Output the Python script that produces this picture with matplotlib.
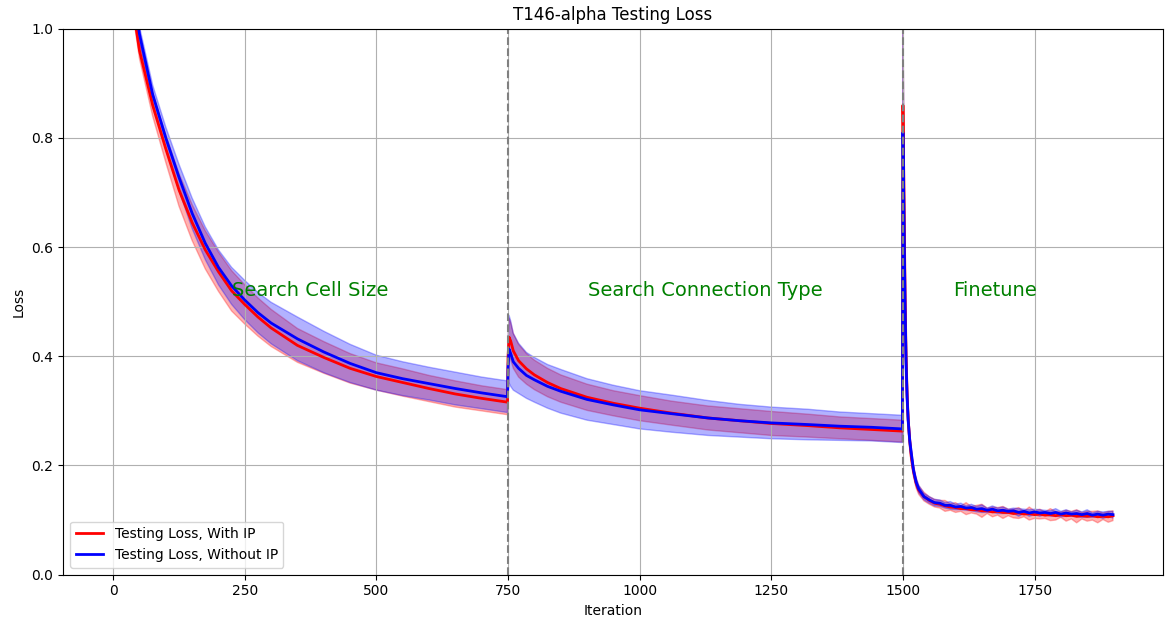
import numpy as np
import matplotlib
matplotlib.use('Agg')
import matplotlib.pyplot as plt

# --- data (iteration, mean, std) ---
iters = ([0, 25, 50, 75, 100, 125, 150, 175, 200, 225, 250, 275, 300, 350,
          400, 450, 500, 550, 600, 650, 700, 749]
         + [750, 752, 755, 760, 770, 785, 800, 825, 850, 900, 950, 1000,
            1060, 1130, 1190, 1250, 1320, 1380, 1440, 1499]
         + [1500, 1502, 1504, 1506, 1508, 1510, 1513, 1516, 1520, 1525,
            1530, 1540, 1550, 1560]
         + list(range(1570, 1900, 10)) + [1899])

red_mean = [1.38, 1.12, 0.96, 0.86, 0.78, 0.705, 0.645, 0.595, 0.555, 0.52,
            0.495, 0.472, 0.452, 0.42, 0.398, 0.378, 0.363, 0.352, 0.341,
            0.331, 0.323, 0.316,
            0.40, 0.435, 0.428, 0.41, 0.392, 0.377, 0.366, 0.352, 0.341,
            0.325, 0.314, 0.305, 0.296, 0.287, 0.282, 0.277, 0.273, 0.269,
            0.266, 0.263,
            0.86, 0.70, 0.52, 0.40, 0.33, 0.285, 0.245, 0.215, 0.19, 0.168,
            0.155, 0.143, 0.136, 0.131,
            0.129, 0.126, 0.124, 0.123, 0.121, 0.121, 0.119, 0.119, 0.117,
            0.117, 0.115, 0.116, 0.114, 0.114, 0.112, 0.113, 0.111, 0.112,
            0.110, 0.111, 0.109, 0.110, 0.108, 0.110, 0.108, 0.109, 0.107,
            0.108, 0.107, 0.108, 0.106, 0.107, 0.106, 0.108]

red_std = [0.010, 0.012, 0.015, 0.020, 0.025, 0.030, 0.033, 0.035, 0.036,
           0.037, 0.036, 0.035, 0.034, 0.031, 0.029, 0.027, 0.025, 0.025,
           0.024, 0.024, 0.023, 0.023,
           0.030, 0.035, 0.034, 0.032, 0.030, 0.028, 0.027, 0.026, 0.025,
           0.024, 0.023, 0.023, 0.022, 0.022, 0.022, 0.022, 0.021, 0.020,
           0.020, 0.020,
           0.15, 0.12, 0.08, 0.05, 0.03, 0.02, 0.015, 0.012, 0.010, 0.009,
           0.008, 0.008, 0.007, 0.007,
           0.007, 0.010, 0.006, 0.009, 0.005, 0.011, 0.006, 0.008, 0.012,
           0.005, 0.009, 0.007, 0.011, 0.006, 0.008, 0.010, 0.005, 0.012,
           0.007, 0.009, 0.006, 0.011, 0.008, 0.005, 0.010, 0.007, 0.012,
           0.006, 0.009, 0.008, 0.011, 0.006, 0.010, 0.009]

blue_mean = [1.42, 1.16, 0.99, 0.88, 0.80, 0.728, 0.662, 0.607, 0.563,
             0.529, 0.503, 0.48, 0.461, 0.432, 0.408, 0.387, 0.37, 0.359,
             0.35, 0.341, 0.333, 0.326,
             0.38, 0.413, 0.405, 0.39, 0.378, 0.365, 0.357, 0.345, 0.336,
             0.321, 0.311, 0.302, 0.295, 0.287, 0.282, 0.278, 0.275, 0.272,
             0.270, 0.267,
             0.81, 0.66, 0.50, 0.39, 0.325, 0.283, 0.245, 0.222, 0.192, 0.17,
             0.157, 0.143, 0.137, 0.132,
             0.131, 0.127, 0.127, 0.124, 0.125, 0.122, 0.123, 0.120, 0.121,
             0.118, 0.120, 0.117, 0.118, 0.116, 0.117, 0.114, 0.116, 0.113,
             0.115, 0.113, 0.114, 0.112, 0.114, 0.111, 0.113, 0.111, 0.112,
             0.110, 0.112, 0.109, 0.111, 0.109, 0.111, 0.110]

blue_std = [0.010, 0.012, 0.014, 0.017, 0.020, 0.024, 0.028, 0.030, 0.032,
            0.034, 0.036, 0.037, 0.038, 0.040, 0.038, 0.035, 0.032, 0.031,
            0.030, 0.030, 0.029, 0.029,
            0.050, 0.062, 0.060, 0.052, 0.046, 0.042, 0.041, 0.040, 0.040,
            0.038, 0.036, 0.035, 0.034, 0.032, 0.030, 0.029, 0.028, 0.026,
            0.025, 0.025,
            0.20, 0.15, 0.10, 0.06, 0.035, 0.022, 0.015, 0.011, 0.009, 0.008,
            0.007, 0.006, 0.006, 0.006,
            0.006, 0.005, 0.007, 0.005, 0.006, 0.004, 0.006, 0.005, 0.007,
            0.004, 0.006, 0.005, 0.006, 0.004, 0.005, 0.007, 0.004, 0.006,
            0.005, 0.006, 0.004, 0.005, 0.007, 0.005, 0.006, 0.004, 0.006,
            0.005, 0.007, 0.004, 0.005, 0.006, 0.005, 0.006]

phase_bounds = [750, 1500]
phase_labels = ['Search Cell Size', 'Search Connection Type', 'Finetune']
phase_label_x = [375, 1125, 1675]

x = np.array(iters)
rm, rs = np.array(red_mean), np.array(red_std)
bm, bs = np.array(blue_mean), np.array(blue_std)

fig, ax = plt.subplots(figsize=(11.7, 6.26), dpi=100)
fig.subplots_adjust(left=0.054, right=0.994, top=0.954, bottom=0.082)

ax.plot(x, rm, color='red', lw=2, label='Testing Loss, With IP')
ax.fill_between(x, rm - rs, rm + rs, color='red', alpha=0.3)
ax.plot(x, bm, color='blue', lw=2, label='Testing Loss, Without IP')
ax.fill_between(x, bm - bs, bm + bs, color='blue', alpha=0.3)

for b in phase_bounds:
    ax.axvline(b, color='gray', ls='--', lw=1.5)
for lx, lab in zip(phase_label_x, phase_labels):
    ax.text(lx, 0.52, lab, color='green', fontsize=14, ha='center', va='center')

ax.set_ylim(0, 1.0)
ax.set_xlabel('Iteration')
ax.set_ylabel('Loss')
ax.set_title('T146-alpha Testing Loss')
ax.grid(True)
ax.legend(loc='lower left')

fig.savefig('out.png', dpi=100)
